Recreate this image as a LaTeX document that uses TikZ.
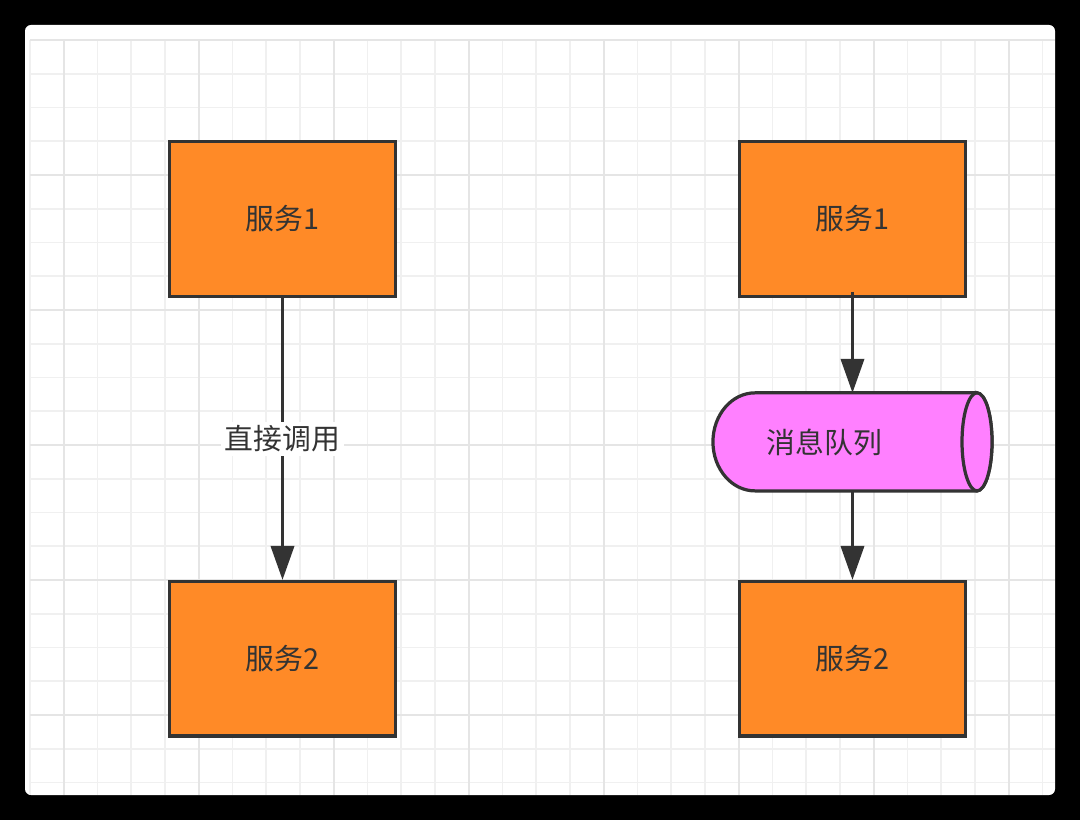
\documentclass[tikz,border=0pt]{standalone}
\usepackage{fontspec}
\newfontfamily\cjk{Noto Sans CJK SC}
\usepackage{xcolor}
\usetikzlibrary{positioning}
\usetikzlibrary{arrows.meta}
\tikzset{>={Triangle[width=5.8mm,length=8.5mm]}}
\definecolor{svcorange}{HTML}{FF8A27}
\definecolor{mqpink}{HTML}{FF80FF}
\definecolor{linegray}{HTML}{333333}

\begin{document}
\begin{tikzpicture}[x=0.025cm, y=-0.025cm, svc/.style={rectangle, draw=linegray, fill=svcorange, line width=2.3pt, minimum width=5.64cm, minimum height=3.86cm, text=linegray, font=\cjk\fontsize{20.5}{24}\selectfont}, mqnode/.style={rectangle, draw=none, minimum width=6.975cm, minimum height=2.45cm, inner sep=0pt, outer sep=0pt}, mqshape/.style={draw=linegray, fill=mqpink, line width=2.3pt}, lbl/.style={draw=none, fill=none, text=linegray, font=\cjk\fontsize{20.5}{24}\selectfont}, edgelabel/.style={fill=white, text=linegray, inner sep=0.1cm, font=\cjk\fontsize{20.5}{24}\selectfont}, flow/.style={->, draw=linegray, line width=2.2pt}, minorgrid/.style={draw=black!6, line width=1.3pt}, majorgrid/.style={draw=black!10, line width=1.3pt}]
    
    %Background
    \fill[black] (0,0) rectangle (1080,820);
    \fill[white, rounded corners=0.15cm] (25,25) rectangle (1055,795);
    \begin{scope}
    \clip[rounded corners=0.15cm] (25,25) rectangle (1055,795);
    \foreach \k in {0,...,30} \draw[minorgrid] ({30+33.75*\k},40) -- ({30+33.75*\k},795);
    \foreach \k in {0,...,22} \draw[minorgrid] (30,{40+33.75*\k}) -- (1055,{40+33.75*\k});
    \foreach \k in {1,5,...,29} \draw[majorgrid] ({30+33.75*\k},40) -- ({30+33.75*\k},795);
    \foreach \k in {0,4,...,20} \draw[majorgrid] (30,{40+33.75*\k}) -- (1055,{40+33.75*\k});
    \end{scope}
    
    %Nodes
    \node[svc](s1l) at (282.5,219){服务1};
    \node[svc](s2l)[below=7.05cm of s1l]{服务2};
    \node[svc](s1r)[right=8.525cm of s1l]{服务1};
    \node[mqnode](mq)[below=2.375cm of s1r]{};
    \node[svc](s2r)[below=7.05cm of s1r]{服务2};
    
    %Queue
    \draw[mqshape] ([xshift=-0.375cm]mq.north east) -- ([xshift=1.05cm]mq.north west) arc[start angle=90, end angle=270, x radius=1.05cm, y radius=1.225cm] -- ([xshift=-0.375cm]mq.south east) arc[start angle=-90, end angle=90, x radius=0.375cm, y radius=1.225cm] -- cycle;
    \draw[mqshape] ([xshift=-0.375cm]mq.east) ellipse[x radius=0.375cm, y radius=1.225cm];
    \node[lbl](mqlabel) at (824.5,442){消息队列};
    
    %Lines
    \draw[flow] (s1l.south) -- node[edgelabel](calllabel){直接调用} (s2l.north);
    \draw[flow] ([yshift=0.15cm]s1r.south) -- (mq.north);
    \draw[flow] (mq.south) -- (s2r.north);
    
\end{tikzpicture}
\end{document}
